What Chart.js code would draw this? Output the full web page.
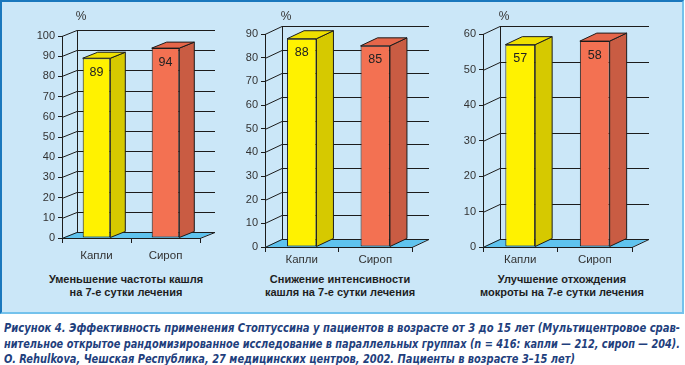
<!DOCTYPE html>
<html><head><meta charset="utf-8">
<script src="https://cdn.jsdelivr.net/npm/chart.js@4/dist/chart.umd.min.js"></script>
<style>
body{margin:0;width:685px;height:365px;background:#fff;position:relative;overflow:hidden;font-family:"Liberation Sans",Arial,sans-serif}
#panel{position:absolute;left:0;top:0;width:680px;height:310px;background:#cbe7f8;border:2px solid;border-color:#1a78bd #74c2ec #74c2ec #1a78bd}
canvas{position:absolute;top:0}
.title{position:absolute;top:273px;width:220px;font-weight:bold;font-size:11px;text-align:center;color:#1e1e1e;line-height:13px}
.cap{position:absolute;left:4px;white-space:nowrap;font-style:italic;font-weight:bold;color:#1f3f7d;font-size:12.5px;line-height:16px;transform-origin:0 50%;font-family:"DejaVu Sans","Liberation Sans",sans-serif;font-stretch:condensed}
</style></head>
<body>
<div id="panel"></div>
<canvas id="c1" width="230" height="265" style="left:0"></canvas>
<canvas id="c2" width="230" height="265" style="left:225px"></canvas>
<canvas id="c3" width="235" height="265" style="left:450px"></canvas>
<div class="title" style="left:16px">Уменьшение частоты кашля<br>на 7-е сутки лечения</div>
<div class="title" style="left:230px">Снижение интенсивности<br>кашля на 7-е сутки лечения</div>
<div class="title" style="left:452px">Улучшение отхождения<br>мокроты на 7-е сутки лечения</div>
<div class="cap" id="l1" style="top:320px">Рисунок 4. Эффективность применения Стоптуссина у пациентов в возрасте от 3 до 15 лет (Мультицентровое срав-</div>
<div class="cap" id="l2" style="top:336px">нительное открытое рандомизированное исследование в параллельных группах (n = 416: капли — 212, сироп — 204).</div>
<div class="cap" id="l3" style="top:351px">O. Rehulkova, Чешская Республика, 27 медицинских центров, 2002. Пациенты в возрасте 3–15 лет)</div>
<script>
// ---- data ----
const categories = ['Капли', 'Сироп'];
const coughFrequency = [89, 94];   // Уменьшение частоты кашля, %
const coughIntensity = [88, 85];   // Снижение интенсивности кашля, %
const sputumClearance = [57, 58];  // Улучшение отхождения мокроты, %
const axisMax = [100, 90, 60];
const axisStep = 10;

// ---- styling / layout ----
const barFront = ['#fff200', '#f37152'];
const barSide  = ['#d6c900', '#c95c43'];
const barTop   = ['#efe000', '#e5664a'];
const floorColor = '#5fc3ee';
const lineColor = '#1c1c1c';

const layouts = [
  {id:'c1', cw:230, L:62, R:200, T:36, B:238, dx:15, dy:-6, lpad:6},
  {id:'c2', cw:230, L:40, R:187, T:34, B:247, dx:17, dy:-8, lpad:1},
  {id:'c3', cw:235, L:33, R:182, T:34, B:247, dx:17, dy:-8, lpad:1}
];
const datasets = [coughFrequency, coughIntensity, sputumClearance];

function make(idx){
  const g = layouts[idx];
  const H = 265;
  const plugin = {
    id:'fake3d',
    beforeDatasetsDraw(chart){
      const ctx = chart.ctx, ys = chart.scales.y, a = chart.chartArea;
      const L = a.left, R = a.right, B = ys.getPixelForValue(0);
      ctx.save();
      ctx.fillStyle = floorColor;
      ctx.beginPath();
      ctx.moveTo(L, B); ctx.lineTo(R, B); ctx.lineTo(R+g.dx, B+g.dy); ctx.lineTo(L+g.dx, B+g.dy); ctx.closePath();
      ctx.fill();
      ctx.strokeStyle = lineColor; ctx.lineWidth = 1;
      ctx.beginPath();
      ctx.moveTo(L, B+0.5); ctx.lineTo(R, B+0.5); ctx.lineTo(R+g.dx, B+g.dy+0.5);
      ctx.stroke();
      const top = ys.getPixelForValue(ys.max);
      ctx.beginPath();
      ctx.moveTo(L+g.dx+0.5, B+g.dy); ctx.lineTo(L+g.dx+0.5, top+g.dy);
      ys.ticks.forEach(t => {
        const y = Math.round(ys.getPixelForValue(t.value)) + 0.5;
        ctx.moveTo(L, y); ctx.lineTo(L+g.dx, y+g.dy);
        ctx.moveTo(L+g.dx, y+g.dy); ctx.lineTo(R+g.dx, y+g.dy);
      });
      ctx.stroke();
      ctx.fillStyle = '#333';
      ctx.font = '12px "Liberation Sans", Arial, sans-serif';
      ctx.textAlign = 'center'; ctx.textBaseline = 'middle';
      ctx.fillText('%', L+g.dx+4, 17);
      ctx.restore();
    },
    afterDatasetsDraw(chart){
      const ctx = chart.ctx;
      const meta = chart.getDatasetMeta(0);
      ctx.save();
      ctx.strokeStyle = lineColor; ctx.lineWidth = 1; ctx.lineJoin = 'round';
      meta.data.forEach((bar, i) => {
        const w = bar.width, l = bar.x - w/2, r = bar.x + w/2, y = bar.y, b = bar.base;
        ctx.fillStyle = barSide[i];
        ctx.beginPath();
        ctx.moveTo(r, y); ctx.lineTo(r+g.dx, y+g.dy); ctx.lineTo(r+g.dx, b+g.dy); ctx.lineTo(r, b); ctx.closePath();
        ctx.fill(); ctx.stroke();
        ctx.fillStyle = barTop[i];
        ctx.beginPath();
        ctx.moveTo(l, y); ctx.lineTo(r, y); ctx.lineTo(r+g.dx, y+g.dy); ctx.lineTo(l+g.dx, y+g.dy); ctx.closePath();
        ctx.fill(); ctx.stroke();
        ctx.fillStyle = '#222';
        ctx.font = '12.5px "Liberation Sans", Arial, sans-serif';
        ctx.textAlign = 'center'; ctx.textBaseline = 'middle';
        ctx.fillText(String(datasets[idx][i]), bar.x, y + 14);
      });
      ctx.restore();
    }
  };
  return new Chart(document.getElementById(g.id), {
    type:'bar',
    data:{labels:categories, datasets:[{data:datasets[idx], backgroundColor:barFront, borderColor:lineColor, borderWidth:1, borderSkipped:false, barPercentage:0.4, categoryPercentage:1}]},
    options:{
      responsive:false, animation:false, devicePixelRatio:1,
      layout:{padding:{left:0, top:g.T, right:g.cw-g.R, bottom:0}},
      plugins:{legend:{display:false}, tooltip:{enabled:false}},
      scales:{
        y:{min:0, max:axisMax[idx],
           ticks:{stepSize:axisStep, color:'#333', padding:3, font:{size:11, family:'"Liberation Sans", Arial, sans-serif'}},
           grid:{drawOnChartArea:false, drawTicks:true, tickLength:4, color:lineColor},
           border:{display:true, color:lineColor, width:1},
           afterFit(s){ s.width = g.L; }},
        x:{ticks:{color:'#333', padding:g.lpad, font:{size:11.5, family:'"Liberation Sans", Arial, sans-serif'}},
           grid:{drawOnChartArea:false, drawTicks:true, tickLength:5, color:lineColor, offset:true},
           border:{display:false},
           afterFit(s){ s.height = H - g.B; }}
      }
    },
    plugins:[plugin]
  });
}
[0,1,2].forEach(make);

[['l1',676],['l2',676],['l3',571]].forEach(([id,w]) => {
  const el = document.getElementById(id);
  const cur = el.getBoundingClientRect().width;
  el.style.transform = 'scaleX(' + (w/cur) + ')';
});
</script>
</body></html>
